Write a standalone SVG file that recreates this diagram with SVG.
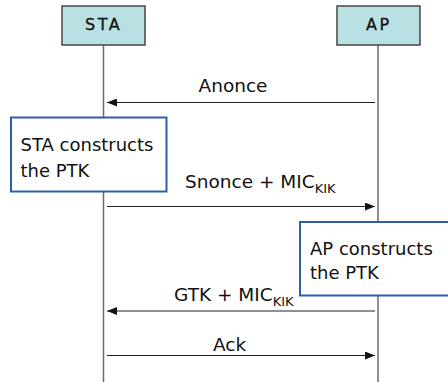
<svg xmlns="http://www.w3.org/2000/svg" width="448" height="382" viewBox="0 0 448 382">
<style>
.hdr{fill:#b9e0e2;stroke:#454545;stroke-width:1.5}
.hdrt{font-family:"DejaVu Sans",Verdana,sans-serif;font-size:16px;fill:#111;letter-spacing:2.5px;stroke:#111;stroke-width:0.3}
.life{stroke:#6a6a6a;stroke-width:1.5;fill:none}
.msg{stroke:#222;stroke-width:1.2;fill:none}
.lbl{font-family:"DejaVu Sans",Verdana,sans-serif;font-size:18px;fill:#111}
.ml{font-size:18.5px}
.sub{font-size:13px}
.note{fill:#fff;stroke:#2e5db0;stroke-width:2}
</style>
<defs>
<marker id="ah" viewBox="0 0 10 8" refX="10" refY="4" markerWidth="10" markerHeight="8" markerUnits="userSpaceOnUse" orient="auto">
<path d="M0,0 L10,4 L0,8 Z" fill="#111"/>
</marker>
</defs>
<g id="lifelines">
<line class="life" x1="103.5" y1="45" x2="103.5" y2="382"/>
<line class="life" x1="378" y1="45" x2="378" y2="382"/>
</g>
<g id="STA">
<rect class="hdr" x="62" y="6" width="83" height="39"/>
<text class="hdrt" x="85" y="30">STA</text>
</g>
<g id="AP">
<rect class="hdr" x="337" y="6" width="83" height="39"/>
<text class="hdrt" x="366" y="30">AP</text>
</g>
<g id="connectors">
<line class="msg" x1="375" y1="102.5" x2="107" y2="102.5" marker-end="url(#ah)"/>
<text class="lbl ml" x="233" y="92" text-anchor="middle">Anonce</text>
<line class="msg" x1="107" y1="206.5" x2="375" y2="206.5" marker-end="url(#ah)"/>
<text class="lbl ml" x="185" y="188">Snonce + MIC<tspan class="sub" dy="5">KIK</tspan></text>
<line class="msg" x1="375" y1="311" x2="107" y2="311" marker-end="url(#ah)"/>
<text class="lbl ml" x="174" y="301">GTK + MIC<tspan class="sub" dy="5">KIK</tspan></text>
<line class="msg" x1="107" y1="355.5" x2="375" y2="355.5" marker-end="url(#ah)"/>
<text class="lbl ml" x="229.5" y="351" text-anchor="middle">Ack</text>
</g>
<g id="sta-note">
<rect class="note" x="11" y="117.5" width="155.5" height="74"/>
<text class="lbl" x="20.5" y="151">STA constructs</text>
<text class="lbl" x="20.5" y="176.5">the PTK</text>
</g>
<g id="ap-note">
<rect class="note" x="300" y="222" width="160" height="73.5"/>
<text class="lbl" x="310" y="255">AP constructs</text>
<text class="lbl" x="310" y="279">the PTK</text>
</g>
</svg>
